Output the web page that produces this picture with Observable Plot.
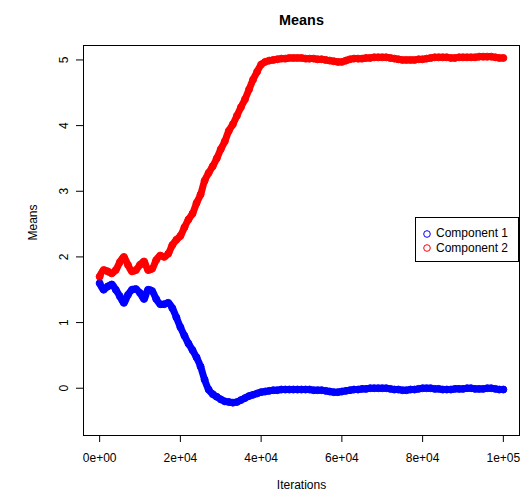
<!DOCTYPE html>
<html><head><meta charset="utf-8">
<script src="https://cdn.jsdelivr.net/npm/d3@7"></script>
<script src="https://cdn.jsdelivr.net/npm/@observablehq/plot@0.6"></script>
<style>
body{margin:0;background:#fff;font-family:"Liberation Sans",Arial,Helvetica,sans-serif;}
#wrap{position:relative;width:527px;height:496px;}
#legend{position:absolute;left:415px;top:217px;width:104px;height:45px;border:1px solid #000;background:#fff;box-sizing:border-box;font-size:12px;color:#000;}
#legend .row{position:absolute;left:6px;height:14px;line-height:14px;white-space:nowrap;}
#legend svg{vertical-align:middle;margin-right:4px;}
</style></head>
<body><div id="wrap"></div>
<script>
const chartTitle = "Means";
const xLabel = "Iterations";
const yLabel = "Means";
const seriesNames = ["Component 1", "Component 2"];
const seriesColors = ["#0000ff", "#ff0000"];
const xTicks = [0, 20000, 40000, 60000, 80000, 100000];
const xTickLabels = ["0e+00", "2e+04", "4e+04", "6e+04", "8e+04", "1e+05"];
const yTicks = [0, 1, 2, 3, 4, 5];
const yTickLabels = ["0", "1", "2", "3", "4", "5"];

// iteration (thousands)
const iterK = [0,1,2,3,4,5,6,7,8,9,10,11,12,13,14,15,16,17,18,19,20,21,22,23,24,25,26,27,28,29,30,31,32,33,34,35,36,37,38,39,40,41,42,43,44,45,46,47,48,49,50,51,52,53,54,55,56,57,58,59,60,61,62,63,64,65,66,67,68,69,70,71,72,73,74,75,76,77,78,79,80,81,82,83,84,85,86,87,88,89,90,91,92,93,94,95,96,97,98,99,100];

const comp1 = [1.60,1.50,1.55,1.58,1.50,1.40,1.30,1.42,1.50,1.51,
  1.45,1.36,1.50,1.48,1.36,1.28,1.28,1.30,1.22,1.08,
  0.93,0.80,0.68,0.58,0.47,0.33,0.13,-0.02,-0.09,-0.13,
  -0.17,-0.20,-0.21,-0.22,-0.21,-0.18,-0.15,-0.12,-0.10,-0.08,
  -0.06,-0.05,-0.04,-0.03,-0.03,-0.02,-0.02,-0.02,-0.02,-0.02,
  -0.02,-0.02,-0.02,-0.03,-0.03,-0.03,-0.04,-0.05,-0.06,-0.06,
  -0.05,-0.04,-0.03,-0.02,-0.02,-0.01,-0.01,0,0,0,
  0,0,-0.01,-0.02,-0.02,-0.03,-0.03,-0.02,-0.02,-0.01,
  0,0,0,-0.01,-0.01,-0.02,-0.02,-0.02,-0.01,-0.01,
  -0.01,0,0,-0.01,-0.01,-0.01,0,0,-0.01,-0.02,-0.02];

const comp2 = [1.70,1.80,1.78,1.75,1.80,1.92,2.00,1.88,1.78,1.80,
  1.88,1.93,1.80,1.82,1.95,2.02,2.00,2.05,2.18,2.26,
  2.32,2.45,2.57,2.66,2.82,2.95,3.16,3.28,3.38,3.50,
  3.64,3.76,3.92,4.02,4.15,4.28,4.40,4.55,4.70,4.82,
  4.93,4.97,4.99,5.00,5.01,5.02,5.02,5.03,5.03,5.03,
  5.03,5.02,5.02,5.02,5.01,5.01,5.00,4.99,4.98,4.97,
  4.97,4.99,5.01,5.02,5.02,5.02,5.03,5.03,5.04,5.04,
  5.04,5.04,5.03,5.02,5.01,5.00,5.00,5.00,5.00,5.01,
  5.01,5.02,5.03,5.04,5.04,5.04,5.04,5.03,5.03,5.04,
  5.04,5.04,5.04,5.04,5.05,5.05,5.05,5.05,5.04,5.03,5.03];

const data = [];
[comp1, comp2].forEach((vals, s) => {
  vals.forEach((v, i) => data.push({iter: iterK[i] * 1000, value: v, series: seriesNames[s]}));
});

const font = '"Liberation Sans", Arial, Helvetica, sans-serif';
const plot = Plot.plot({
  width: 527, height: 496,
  marginLeft: 83, marginRight: 8, marginTop: 45, marginBottom: 61,
  style: {fontFamily: font, fontSize: "12px", color: "#000", background: "#fff", overflow: "visible"},
  x: {domain: [-4000, 104000]},
  y: {domain: [-0.72, 5.22]},
  color: {domain: seriesNames, range: seriesColors},
  marks: [
    Plot.axisX({ticks: xTicks, tickFormat: d => xTickLabels[xTicks.indexOf(d)], tickSize: 7, tickPadding: 11, label: null, fontSize: 12}),
    Plot.axisY({ticks: yTicks, tickFormat: d => yTickLabels[yTicks.indexOf(d)], tickSize: 7, tickPadding: 9, tickRotate: -90, label: null, fontSize: 12}),
    Plot.line(data, {x: "iter", y: "value", z: "series", stroke: "series", strokeWidth: 7, curve: "catmull-rom", strokeLinejoin: "round", strokeLinecap: "round"}),
    Plot.dot(data, {x: "iter", y: "value", stroke: "series", r: 3.5, strokeWidth: 1}),
    Plot.frame({stroke: "#000"}),
    Plot.text([chartTitle], {frameAnchor: "top", dy: -31, fontWeight: "bold", fontSize: 14.4}),
    Plot.text([xLabel], {frameAnchor: "bottom", dy: 53, fontSize: 12}),
    Plot.text([yLabel], {frameAnchor: "left", dx: -50, rotate: -90, fontSize: 12})
  ]
});
const wrap = document.getElementById("wrap");
wrap.appendChild(plot);

const legend = document.createElement("div");
legend.id = "legend";
seriesNames.forEach((name, i) => {
  const row = document.createElement("div");
  row.className = "row";
  row.style.top = (8 + i * 14.5) + "px";
  row.innerHTML = `<svg width="10" height="10"><circle cx="5" cy="5" r="3.3" fill="none" stroke="${seriesColors[i]}" stroke-width="1"/></svg>`;
  row.appendChild(document.createTextNode(name));
  legend.appendChild(row);
});
wrap.appendChild(legend);
</script>
</body></html>
